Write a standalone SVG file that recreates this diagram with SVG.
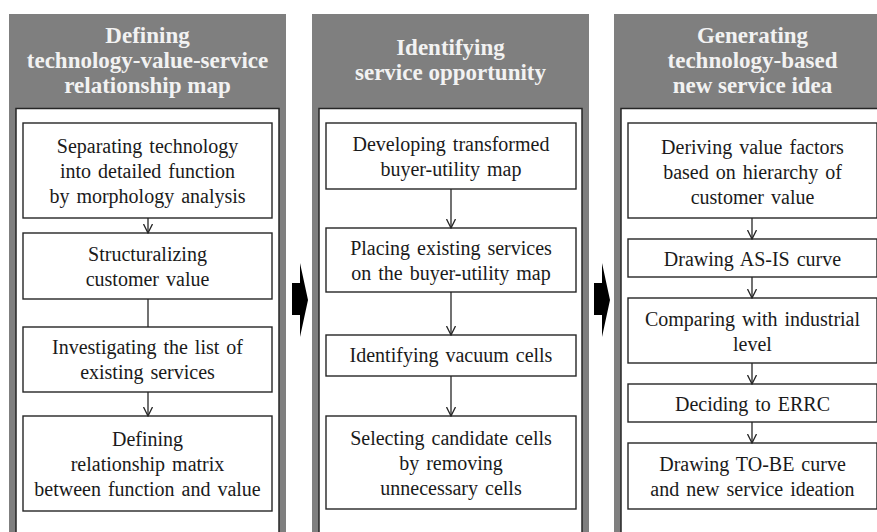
<svg xmlns="http://www.w3.org/2000/svg" width="877" height="532" viewBox="0 0 877 532">
  <style>
    .panel { fill: #7f7f7f; }
    .inner { fill: #ffffff; stroke: #262626; stroke-width: 1.5; }
    .box { fill: #ffffff; stroke: #262626; stroke-width: 1.4; }
    .head { font-family: "Liberation Serif", "Times New Roman", serif; font-weight: bold; font-size: 23px; fill: #f2f2f2; text-anchor: middle; }
    .label { font-family: "Liberation Serif", "Times New Roman", serif; font-size: 20px; fill: #1a1a1a; text-anchor: middle; word-spacing: 2px; }
    .link { fill: none; stroke: #262626; stroke-width: 1.3; }
    .big { fill: #000000; }
  </style>
  <defs>
    <marker id="chev" viewBox="0 0 10 10" refX="9.5" refY="5" markerWidth="10" markerHeight="10" markerUnits="userSpaceOnUse" orient="auto">
      <path d="M0.5,0.5 L9.5,5 L0.5,9.5" fill="none" stroke="#262626" stroke-width="1.3"/>
    </marker>
  </defs>

  <rect width="877" height="532" fill="#ffffff"/>

  <!-- Stage panels -->
  <g id="stage1">
    <rect class="panel" x="9" y="14" width="277" height="530"/>
    <rect class="inner" x="16" y="108.5" width="263" height="440"/>
    <text class="head" x="147.5" y="43">Defining</text>
    <text class="head" x="147.5" y="68">technology-value-service</text>
    <text class="head" x="147.5" y="93">relationship map</text>
  </g>
  <g id="stage2">
    <rect class="panel" x="312" y="14" width="277" height="530"/>
    <rect class="inner" x="319" y="108.5" width="263" height="440"/>
    <text class="head" x="450.5" y="55">Identifying</text>
    <text class="head" x="450.5" y="80">service opportunity</text>
  </g>
  <g id="stage3">
    <rect class="panel" x="614" y="14" width="277" height="530"/>
    <rect class="inner" x="621" y="108.5" width="263" height="440"/>
    <text class="head" x="752.5" y="43">Generating</text>
    <text class="head" x="752.5" y="68">technology-based</text>
    <text class="head" x="752.5" y="93">new service idea</text>
  </g>

  <!-- Stage 1 steps -->
  <g id="s1-separating">
    <rect class="box" x="23" y="123" width="249" height="95"/>
    <text class="label" x="147.5" y="153">Separating technology</text>
    <text class="label" x="147.5" y="178">into detailed function</text>
    <text class="label" x="147.5" y="203">by morphology analysis</text>
  </g>
  <g id="s1-structuralizing">
    <rect class="box" x="23" y="233" width="249" height="66"/>
    <text class="label" x="147.5" y="261">Structuralizing</text>
    <text class="label" x="147.5" y="286">customer value</text>
  </g>
  <g id="s1-investigating">
    <rect class="box" x="23" y="327" width="249" height="65"/>
    <text class="label" x="147.5" y="354">Investigating the list of</text>
    <text class="label" x="147.5" y="379">existing services</text>
  </g>
  <g id="s1-defining">
    <rect class="box" x="23" y="416" width="249" height="95"/>
    <text class="label" x="147.5" y="446">Defining</text>
    <text class="label" x="147.5" y="471">relationship matrix</text>
    <text class="label" x="147.5" y="496">between function and value</text>
  </g>

  <!-- Stage 2 steps -->
  <g id="s2-developing">
    <rect class="box" x="326" y="123" width="250" height="66"/>
    <text class="label" x="451" y="151">Developing transformed</text>
    <text class="label" x="451" y="176">buyer-utility map</text>
  </g>
  <g id="s2-placing">
    <rect class="box" x="326" y="228" width="250" height="64"/>
    <text class="label" x="451" y="255">Placing existing services</text>
    <text class="label" x="451" y="280">on the buyer-utility map</text>
  </g>
  <g id="s2-vacuum">
    <rect class="box" x="326" y="335" width="250" height="41"/>
    <text class="label" x="451" y="362">Identifying vacuum cells</text>
  </g>
  <g id="s2-selecting">
    <rect class="box" x="326" y="416" width="250" height="93"/>
    <text class="label" x="451" y="445">Selecting candidate cells</text>
    <text class="label" x="451" y="470">by removing</text>
    <text class="label" x="451" y="495">unnecessary cells</text>
  </g>

  <!-- Stage 3 steps -->
  <g id="s3-deriving">
    <rect class="box" x="628" y="123" width="249" height="95"/>
    <text class="label" x="752.5" y="154">Deriving value factors</text>
    <text class="label" x="752.5" y="179">based on hierarchy of</text>
    <text class="label" x="752.5" y="204">customer value</text>
  </g>
  <g id="s3-asis">
    <rect class="box" x="628" y="239" width="249" height="38"/>
    <text class="label" x="752.5" y="265.5">Drawing AS-IS curve</text>
  </g>
  <g id="s3-comparing">
    <rect class="box" x="628" y="298" width="249" height="65"/>
    <text class="label" x="752.5" y="326">Comparing with industrial</text>
    <text class="label" x="752.5" y="351">level</text>
  </g>
  <g id="s3-errc">
    <rect class="box" x="628" y="384" width="249" height="38"/>
    <text class="label" x="752.5" y="410.5">Deciding to ERRC</text>
  </g>
  <g id="s3-tobe">
    <rect class="box" x="628" y="443" width="249" height="66"/>
    <text class="label" x="752.5" y="471">Drawing TO-BE curve</text>
    <text class="label" x="752.5" y="496">and new service ideation</text>
  </g>

  <!-- Connectors -->
  <g id="connectors">
    <line class="link" x1="148" y1="218" x2="148" y2="233" marker-end="url(#chev)"/>
    <line class="link" x1="148" y1="299" x2="148" y2="327"/>
    <line class="link" x1="148" y1="392" x2="148" y2="416" marker-end="url(#chev)"/>

    <line class="link" x1="451" y1="189" x2="451" y2="228" marker-end="url(#chev)"/>
    <line class="link" x1="451" y1="292" x2="451" y2="335" marker-end="url(#chev)"/>
    <line class="link" x1="451" y1="376" x2="451" y2="416" marker-end="url(#chev)"/>

    <line class="link" x1="752" y1="218" x2="752" y2="239" marker-end="url(#chev)"/>
    <line class="link" x1="752" y1="277" x2="752" y2="298" marker-end="url(#chev)"/>
    <line class="link" x1="752" y1="363" x2="752" y2="384" marker-end="url(#chev)"/>
    <line class="link" x1="752" y1="422" x2="752" y2="443" marker-end="url(#chev)"/>

    <!-- stage-to-stage arrows -->
    <polygon class="big" points="292,283 300,283 300,263 308,300 300,337 300,315 292,315"/>
    <polygon class="big" points="594,283 602,283 602,263 610,300 602,337 602,315 594,315"/>
  </g>
</svg>
